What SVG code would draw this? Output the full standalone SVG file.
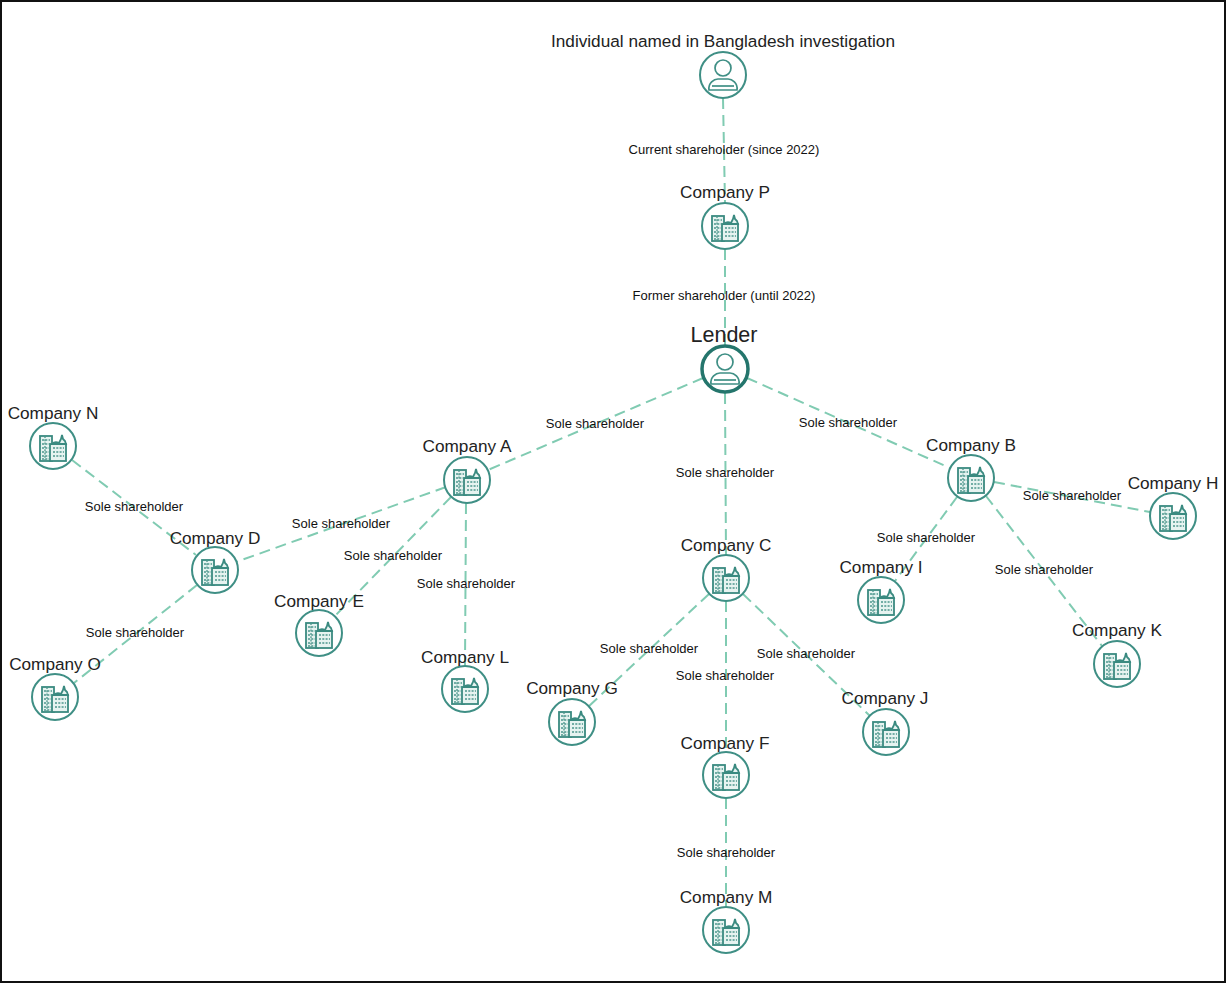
<svg xmlns="http://www.w3.org/2000/svg" width="1226" height="984" viewBox="0 0 1226 984">
<style>
text{font-family:"Liberation Sans",Arial,sans-serif;fill:#222;text-anchor:middle}
.n{font-size:17.2px}
.l{font-size:13px;fill:#111}
.big{font-size:21.5px}
#connectors line{stroke:#80cbb2;stroke-width:2;stroke-dasharray:11 6;fill:none}
.ring{fill:#fff;stroke:#3f8f85;stroke-width:2}
.ring2{fill:#fff;stroke:#24756c;stroke-width:3.500}
.ic{fill:none;stroke:#3f8f85;stroke-width:1.700}
.b{fill:#e6f3f0;stroke:#3a8a80;stroke-width:1.800}
.w{fill:none;stroke:#4c968c;stroke-width:1.300;stroke-dasharray:2 1.300}
</style>
<defs>
<g id="person">
<circle class="ic" cx="0" cy="-7" r="8"/>
<path class="ic" d="M-14 15C-15 8-9 4-5 4H5C9 4 15 8 14 15Z"/>
<line class="ic" x1="-11" y1="11" x2="11" y2="11" stroke-width="1"/>
</g>
<g id="bld">
<rect class="b" x="-13" y="-12" width="12" height="25"/>
<rect class="b" x="-3" y="-4" width="16" height="17"/>
<path class="b" d="M-1-4C1-6 4-6 6-5L8-9 9-13 10-9 12-7 13-4Z"/>
<path class="w" d="M-11-8H-3M-11-4H-3M-11 0H-4M-11 4H-4M-11 8H-4M-11 11H-4M0 0H11M0 4H11M0 8H11"/>
<path class="w" d="M-8-12V13" stroke-dasharray="none"/>
</g>
</defs>
<rect x="1" y="1" width="1224" height="981" fill="#fff" stroke="#111" stroke-width="2"/>
<g id="connectors">
<line x1="723" y1="98" x2="725" y2="203"/>
<line x1="725" y1="249" x2="725" y2="345"/>
<line x1="703" y1="378" x2="488" y2="470"/>
<line x1="747" y1="378" x2="950" y2="468"/>
<line x1="725" y1="393" x2="726" y2="555"/>
<line x1="446" y1="487" x2="236" y2="562"/>
<line x1="451" y1="497" x2="334" y2="617"/>
<line x1="466" y1="503" x2="465" y2="666"/>
<line x1="72" y1="460" x2="196" y2="555"/>
<line x1="197" y1="585" x2="74" y2="683"/>
<line x1="709" y1="594" x2="589" y2="706"/>
<line x1="726" y1="601" x2="726" y2="752"/>
<line x1="743" y1="594" x2="870" y2="716"/>
<line x1="726" y1="798" x2="726" y2="907"/>
<line x1="957" y1="497" x2="895" y2="581"/>
<line x1="986" y1="496" x2="1102" y2="646"/>
<line x1="994" y1="482" x2="1150" y2="512"/>
</g>
<g id="edge-labels">
<text class="l" x="724" y="154">Current shareholder (since 2022)</text>
<text class="l" x="724" y="300">Former shareholder (until 2022)</text>
<text class="l" x="595" y="428">Sole shareholder</text>
<text class="l" x="848" y="427">Sole shareholder</text>
<text class="l" x="725" y="477">Sole shareholder</text>
<text class="l" x="341" y="528">Sole shareholder</text>
<text class="l" x="393" y="560">Sole shareholder</text>
<text class="l" x="466" y="588">Sole shareholder</text>
<text class="l" x="134" y="511">Sole shareholder</text>
<text class="l" x="135" y="637">Sole shareholder</text>
<text class="l" x="649" y="653">Sole shareholder</text>
<text class="l" x="725" y="680">Sole shareholder</text>
<text class="l" x="806" y="658">Sole shareholder</text>
<text class="l" x="726" y="857">Sole shareholder</text>
<text class="l" x="926" y="542">Sole shareholder</text>
<text class="l" x="1044" y="574">Sole shareholder</text>
<text class="l" x="1072" y="500">Sole shareholder</text>
</g>
<g id="node-individual"><circle class="ring" cx="723" cy="75" r="23"/><use href="#person" x="723" y="75"/><text class="n" x="723" y="47">Individual named in Bangladesh investigation</text></g>
<g id="node-p"><circle class="ring" cx="725" cy="226" r="23"/><use href="#bld" x="725" y="228"/><text class="n" x="725" y="198">Company P</text></g>
<g id="node-lender"><circle class="ring2" cx="725" cy="369" r="23"/><use href="#person" x="725" y="369"/><text class="big" x="724" y="342">Lender</text></g>
<g id="node-a"><circle class="ring" cx="467" cy="480" r="23"/><use href="#bld" x="467" y="482"/><text class="n" x="467" y="452">Company A</text></g>
<g id="node-b"><circle class="ring" cx="971" cy="478" r="23"/><use href="#bld" x="971" y="480"/><text class="n" x="971" y="451">Company B</text></g>
<g id="node-c"><circle class="ring" cx="726" cy="578" r="23"/><use href="#bld" x="726" y="580"/><text class="n" x="726" y="551">Company C</text></g>
<g id="node-d"><circle class="ring" cx="215" cy="570" r="23"/><use href="#bld" x="215" y="572"/><text class="n" x="215" y="544">Company D</text></g>
<g id="node-e"><circle class="ring" cx="319" cy="633" r="23"/><use href="#bld" x="319" y="635"/><text class="n" x="319" y="607">Company E</text></g>
<g id="node-f"><circle class="ring" cx="726" cy="775" r="23"/><use href="#bld" x="726" y="777"/><text class="n" x="725" y="749">Company F</text></g>
<g id="node-g"><circle class="ring" cx="572" cy="722" r="23"/><use href="#bld" x="572" y="724"/><text class="n" x="572" y="694">Company G</text></g>
<g id="node-h"><circle class="ring" cx="1173" cy="516" r="23"/><use href="#bld" x="1173" y="518"/><text class="n" x="1173" y="489">Company H</text></g>
<g id="node-i"><circle class="ring" cx="881" cy="600" r="23"/><use href="#bld" x="881" y="602"/><text class="n" x="881" y="573">Company I</text></g>
<g id="node-j"><circle class="ring" cx="886" cy="732" r="23"/><use href="#bld" x="886" y="734"/><text class="n" x="885" y="704">Company J</text></g>
<g id="node-k"><circle class="ring" cx="1117" cy="664" r="23"/><use href="#bld" x="1117" y="666"/><text class="n" x="1117" y="636">Company K</text></g>
<g id="node-l"><circle class="ring" cx="465" cy="689" r="23"/><use href="#bld" x="465" y="691"/><text class="n" x="465" y="663">Company L</text></g>
<g id="node-m"><circle class="ring" cx="726" cy="930" r="23"/><use href="#bld" x="726" y="932"/><text class="n" x="726" y="903">Company M</text></g>
<g id="node-n"><circle class="ring" cx="53" cy="446" r="23"/><use href="#bld" x="53" y="448"/><text class="n" x="53" y="419">Company N</text></g>
<g id="node-o"><circle class="ring" cx="55" cy="697" r="23"/><use href="#bld" x="55" y="699"/><text class="n" x="55" y="670">Company O</text></g>
</svg>
